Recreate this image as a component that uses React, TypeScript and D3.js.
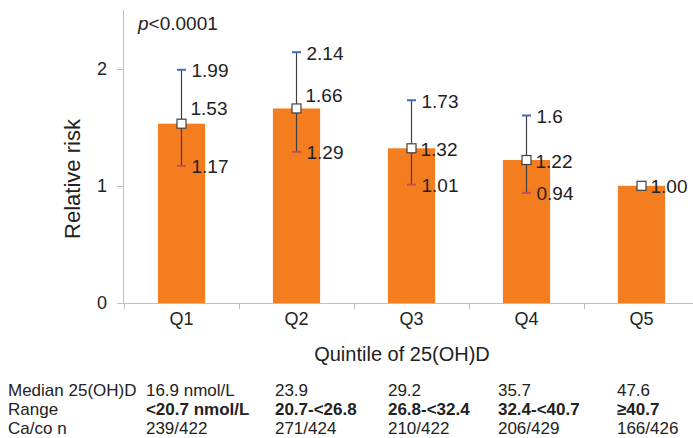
import React from 'react';
import * as d3 from 'd3';

const categories = ['Q1', 'Q2', 'Q3', 'Q4', 'Q5'];
const relativeRisk = [1.53, 1.66, 1.32, 1.22, 1.0];
const lowerCI: (number | null)[] = [1.17, 1.29, 1.01, 0.94, null];
const upperCI: (number | null)[] = [1.99, 2.14, 1.73, 1.6, null];
const midLabels = ['1.53', '1.66', '1.32', '1.22', '1.00'];
const upperLabels = ['1.99', '2.14', '1.73', '1.6', ''];
const lowerLabels = ['1.17', '1.29', '1.01', '0.94', ''];
const yTicks = [0, 1, 2];
const rowHeaders = ['Median 25(OH)D', 'Range', 'Ca/co n'];
const medians = ['16.9 nmol/L', '23.9', '29.2', '35.7', '47.6'];
const ranges = ['<20.7 nmol/L', '20.7-<26.8', '26.8-<32.4', '32.4-<40.7', '≥40.7'];
const caseControl = ['239/422', '271/424', '210/422', '206/429', '166/426'];

// layout (not data)
const W = 693;
const H = 438;
const midLabelDy = [-16, -14, 0, 0, 0];
const tableColOffset = [-12, 2, 0, -5, -1];
const FONT = '"Liberation Sans", Arial, sans-serif';

export default function App() {
  const x = d3.scaleBand<string>().domain(categories).range([124, 699]).paddingInner(0.59).paddingOuter(0.295);
  const y = d3.scaleLinear().domain([0, 2.5]).range([303, 10]);
  const step = x.step();
  const bw = x.bandwidth();
  const axisColor = '#BFBFBF';
  const boundaries = d3.range(categories.length + 1).map((i) => 124 + i * step);
  const tableRows = [medians, ranges, caseControl];
  const rowBaselines = [396, 415, 434];

  return (
    <svg width={W} height={H} style={{ position: 'absolute', left: 0, top: 0, background: '#fff' }} fontFamily={FONT}>
      <rect x={0} y={0} width={W} height={H} fill="#fff" />
      {/* y axis */}
      <line x1={123.5} x2={123.5} y1={y(2.5)} y2={y(0)} stroke={axisColor} strokeWidth={1} />
      {yTicks.map((t) => (
        <g key={t}>
          <line x1={117} x2={123.5} y1={Math.round(y(t)) + 0.5} y2={Math.round(y(t)) + 0.5} stroke={axisColor} />
          <text x={107} y={y(t)} dominantBaseline="central" textAnchor="end" fontSize={18} fill="#222">
            {t}
          </text>
        </g>
      ))}
      {/* bars */}
      {categories.map((c, i) => (
        <rect key={c} x={x(c)} y={y(relativeRisk[i])} width={bw} height={y(0) - y(relativeRisk[i])} fill="#F47D20" />
      ))}
      {/* x axis */}
      <line x1={123} x2={W} y1={303.5} y2={303.5} stroke={axisColor} strokeWidth={1.2} />
      {boundaries.map((b, i) => (
        <line key={i} x1={b + 0.5} x2={b + 0.5} y1={303.5} y2={309} stroke={axisColor} />
      ))}
      {categories.map((c) => (
        <text key={c} x={(x(c) as number) + bw / 2} y={325} textAnchor="middle" fontSize={18} fill="#222">
          {c}
        </text>
      ))}
      <text x={402} y={361} textAnchor="middle" fontSize={20} fill="#222">
        Quintile of 25(OH)D
      </text>
      <text transform={`translate(80,179) rotate(-90)`} textAnchor="middle" fontSize={22} fill="#222">
        Relative risk
      </text>
      <text x={138} y={30} fontSize={19} fill="#222">
        <tspan fontStyle="italic">p</tspan>
        {'<0.0001'}
      </text>
      {/* error bars + markers + labels */}
      {categories.map((c, i) => {
        const cx = (x(c) as number) + bw / 2;
        const lo = lowerCI[i];
        const hi = upperCI[i];
        return (
          <g key={c}>
            {lo !== null && hi !== null && (
              <>
                <line x1={cx} x2={cx} y1={y(hi)} y2={y(lo)} stroke="#404040" strokeWidth={1.2} />
                <line x1={cx - 4.5} x2={cx + 4.5} y1={y(hi)} y2={y(hi)} stroke="#3E6DB5" strokeWidth={2} />
                <line x1={cx - 4.5} x2={cx + 4.5} y1={y(lo)} y2={y(lo)} stroke="#C0504D" strokeWidth={2} />
                <text x={cx + 10} y={y(hi) + 1} dominantBaseline="central" fontSize={19} fill="#222">
                  {upperLabels[i]}
                </text>
                <text x={cx + 10} y={y(lo) + 1} dominantBaseline="central" fontSize={19} fill="#222">
                  {lowerLabels[i]}
                </text>
              </>
            )}
            <rect x={cx - 4.5} y={y(relativeRisk[i]) - 4.5} width={9} height={9} fill="#fff" stroke="#404040" strokeWidth={1.2} />
            <text x={cx + 9} y={y(relativeRisk[i]) + midLabelDy[i] + 1} dominantBaseline="central" fontSize={19} fill="#222">
              {midLabels[i]}
            </text>
          </g>
        );
      })}
      {/* table */}
      {rowHeaders.map((h, r) => (
        <text key={h} x={8} y={rowBaselines[r]} fontSize={17} fill="#222">
          {h}
        </text>
      ))}
      {tableRows.map((row, r) =>
        row.map((v, i) => (
          <text
            key={`${r}-${i}`}
            x={(x(categories[i]) as number) + tableColOffset[i]}
            y={rowBaselines[r]}
            fontSize={17}
            fontWeight={r === 1 ? 'bold' : 'normal'}
            fill="#222"
          >
            {v}
          </text>
        ))
      )}
    </svg>
  );
}
